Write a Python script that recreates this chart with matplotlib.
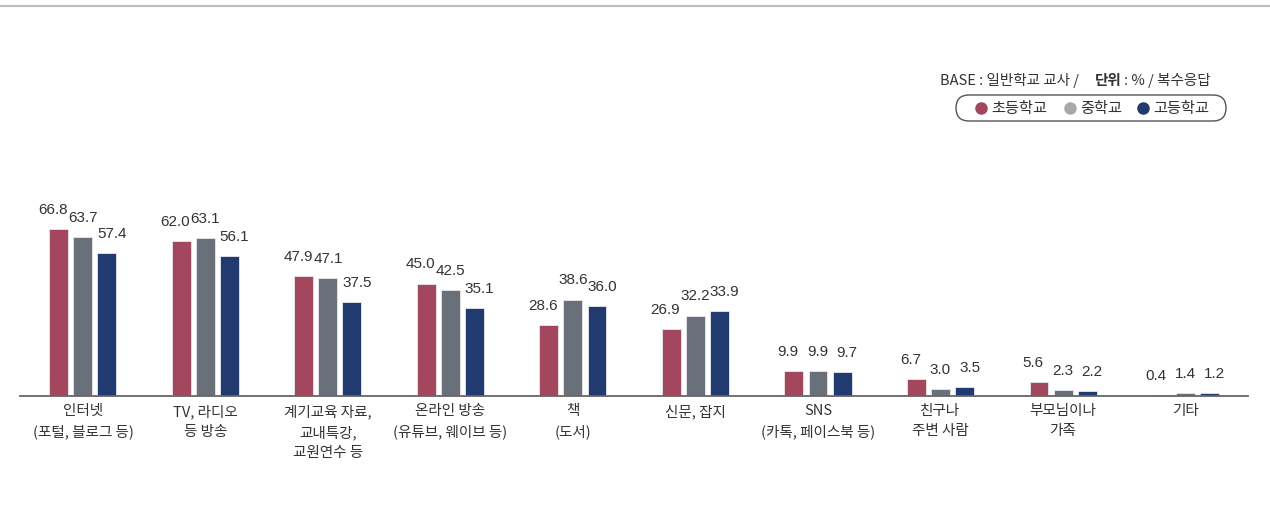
import numpy as np
import matplotlib
matplotlib.use('Agg')
import matplotlib.pyplot as plt
from matplotlib.patches import FancyBboxPatch

plt.rcParams['font.family'] = ['Noto Sans CJK KR', 'DejaVu Sans']

categories = ['인터넷\n(포털, 블로그 등)', 'TV, 라디오\n등 방송', '계기교육 자료,\n교내특강,\n교원연수 등',
              '온라인 방송\n(유튜브, 웨이브 등)', '책\n(도서)', '신문, 잡지', 'SNS\n(카톡, 페이스북 등)',
              '친구나\n주변 사람', '부모님이나\n가족', '기타']
elementary = [66.8, 62.0, 47.9, 45.0, 28.6, 26.9, 9.9, 6.7, 5.6, 0.4]
middle = [63.7, 63.1, 47.1, 42.5, 38.6, 32.2, 9.9, 3.0, 2.3, 1.4]
high = [57.4, 56.1, 37.5, 35.1, 36.0, 33.9, 9.7, 3.5, 2.2, 1.2]
series_names = ['초등학교', '중학교', '고등학교']
bar_colors = ['#A3475F', '#6A7079', '#213B70']
legend_colors = ['#A3475F', '#A8A8A8', '#213B70']

W, H = 1270, 528
fig = plt.figure(figsize=(W / 100, H / 100), dpi=100)

# main axes: baseline at y=396px, 2.5px per unit
ax = fig.add_axes([20 / W, 132 / H, 1228 / W, 200 / H])
x = np.arange(len(categories))
step = 0.196
width = 0.155
nudge = [-6, 0, 5]   # label shift in px so the three numbers don't pile up
for k, (vals, col) in enumerate(zip([elementary, middle, high], bar_colors)):
    xs = x + (k - 1) * step
    ax.bar(xs, vals, width=width, color=col, edgecolor='#e8e8ee', linewidth=0.6, zorder=2)
    for xi, v in zip(xs, vals):
        ax.annotate(f'{v:.1f}', (xi, v), xytext=(nudge[k], 12), textcoords='offset pixels',
                    ha='center', va='bottom', fontsize=11, color='#333333',
                    family=['Liberation Sans', 'DejaVu Sans'])

ax.set_xlim(-0.514, 9.51)
ax.set_ylim(0, 80)
ax.set_xticks(x)
ax.set_xticklabels(categories, fontsize=10.5, color='#333333', linespacing=1.55)
ax.tick_params(axis='x', length=0, pad=6)
ax.set_yticks([])
for s in ['top', 'right', 'left']:
    ax.spines[s].set_visible(False)
ax.spines['bottom'].set_color('#666666')
ax.spines['bottom'].set_linewidth(1.3)
ax.patch.set_alpha(0)

# overlay for decorations in pixel coordinates
ov = fig.add_axes([0, 0, 1, 1], zorder=-1)
ov.set_xlim(0, W)
ov.set_ylim(H, 0)
ov.axis('off')
ov.plot([0, W], [6, 6], color='#bfbfbf', lw=1.5)

lab = dict(fontsize=10.5, color='#333333', va='center')
ov.text(940, 80, 'BASE : 일반학교 교사 /', ha='left', **lab)
ov.text(1095, 80, '단위', ha='left', fontweight='bold', **lab)
ov.text(1124, 80, ': % / 복수응답', ha='left', **lab)

box = FancyBboxPatch((956, 95), 270, 26, boxstyle='round,pad=0,rounding_size=13',
                     fc='white', ec='#555555', lw=1.0)
ov.add_patch(box)
for cx, name, col in zip([981, 1070, 1143], series_names, legend_colors):
    ov.plot(cx, 108, 'o', ms=8, color=col)
    ov.text(cx + 10, 108, name, ha='left', fontsize=11, color='#333333', va='center')

fig.savefig('out.png', dpi=100)
